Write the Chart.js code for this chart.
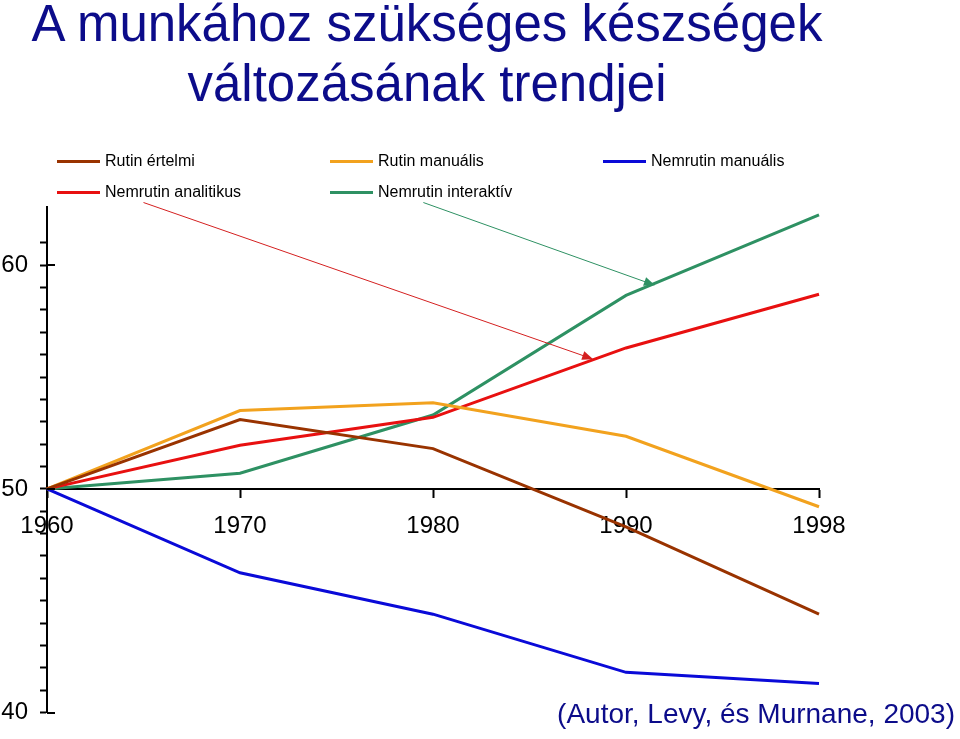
<!DOCTYPE html>
<html>
<head>
<meta charset="utf-8">
<script src="https://cdn.jsdelivr.net/npm/chart.js@4/dist/chart.umd.min.js"></script>
<style>
  html, body { margin: 0; padding: 0; background: #fff; }
  body { width: 960px; height: 739px; position: relative; overflow: hidden; font-family: 'Liberation Sans', Arial, sans-serif; }
  #c { position: absolute; left: 0; top: 0; }
  #title { position: absolute; left: 0; top: -6px; width: 854px; text-align: center; font-size: 51px; line-height: 60px; color: #0c0c8a; }
  #legend { position: absolute; left: 57px; top: 151px; display: grid; grid-template-columns: 273px 273px 273px; grid-auto-rows: 31px; }
  .item { display: flex; align-items: center; height: 20px; font-size: 16px; color: #000; white-space: nowrap; }
  .swatch { width: 43px; height: 3px; margin-right: 5px; }
  #cite { position: absolute; right: 5px; top: 698px; font-size: 28px; line-height: 32px; color: #0c0c8a; white-space: nowrap; }
</style>
</head>
<body>
<canvas id="c" width="960" height="739"></canvas>
<div id="title">A munkához szükséges készségek<br>változásának trendjei</div>
<div id="legend"></div>
<div id="cite">(Autor, Levy, és Murnane, 2003)</div>
<script>
// ---- data ----
const years = ['1960', '1970', '1980', '1990', '1998'];
const seriesNames = ['Rutin értelmi', 'Rutin manuális', 'Nemrutin manuális', 'Nemrutin analitikus', 'Nemrutin interaktív'];
const rutinErtelmi = [50, 53.1, 51.8, 48.3, 44.4];
const rutinManualis = [50, 53.5, 53.85, 52.35, 49.2];
const nemrutinManualis = [50, 46.25, 44.4, 41.8, 41.3];
const nemrutinAnalitikus = [50, 51.95, 53.2, 56.3, 58.7];
const nemrutinInteraktiv = [50, 50.7, 53.3, 58.65, 62.25];
const yMajorLabels = [40, 50, 60];
// annotation arrows (start -> end, in category index / value units)
const arrowFrom = [[0.50, 62.8], [1.95, 62.8]];
const arrowTo = [[2.83, 55.8], [3.15, 59.1]];
const seriesColors = ['#993300', '#f2a21e', '#0a0ad8', '#e81010', '#2e9163'];
const arrowColors = ['#d42020', '#2e9163'];

const seriesData = [rutinErtelmi, rutinManualis, nemrutinManualis, nemrutinAnalitikus, nemrutinInteraktiv];

// legend (HTML)
const legend = document.getElementById('legend');
seriesNames.forEach((n, i) => {
  const d = document.createElement('div');
  d.className = 'item';
  const s = document.createElement('span');
  s.className = 'swatch';
  s.style.background = seriesColors[i];
  d.appendChild(s);
  d.appendChild(document.createTextNode(n));
  legend.appendChild(d);
});

const FONT = "'Liberation Sans', Arial, sans-serif";

const extras = {
  id: 'extras',
  afterDatasetsDraw(chart) {
    const ctx = chart.ctx;
    const xs = chart.scales.x, ys = chart.scales.y;
    ctx.save();
    // arrows
    arrowFrom.forEach((f, i) => {
      const t = arrowTo[i];
      const x1 = xs.getPixelForValue(f[0]), y1 = ys.getPixelForValue(f[1]);
      const x2 = xs.getPixelForValue(t[0]), y2 = ys.getPixelForValue(t[1]);
      const ang = Math.atan2(y2 - y1, x2 - x1);
      const L = 11, W = 4.5;
      ctx.strokeStyle = arrowColors[i];
      ctx.fillStyle = arrowColors[i];
      ctx.lineWidth = 1;
      ctx.beginPath();
      ctx.moveTo(x1, y1);
      ctx.lineTo(x2 - Math.cos(ang) * L * 0.8, y2 - Math.sin(ang) * L * 0.8);
      ctx.stroke();
      ctx.beginPath();
      ctx.moveTo(x2, y2);
      ctx.lineTo(x2 - Math.cos(ang) * L - Math.sin(ang) * W, y2 - Math.sin(ang) * L + Math.cos(ang) * W);
      ctx.lineTo(x2 - Math.cos(ang) * L + Math.sin(ang) * W, y2 - Math.sin(ang) * L - Math.cos(ang) * W);
      ctx.closePath();
      ctx.fill();
    });
    // major ticks cross the y axis
    const x0 = chart.chartArea.left;
    ctx.strokeStyle = '#000';
    ctx.lineWidth = 2;
    yMajorLabels.forEach(v => {
      const y = Math.round(ys.getPixelForValue(v));
      ctx.beginPath();
      ctx.moveTo(x0, y);
      ctx.lineTo(x0 + 8, y);
      ctx.stroke();
    });
    ctx.restore();
  }
};

new Chart(document.getElementById('c'), {
  type: 'line',
  data: {
    labels: years,
    datasets: seriesNames.map((n, i) => ({
      label: n,
      data: seriesData[i],
      borderColor: seriesColors[i],
      backgroundColor: seriesColors[i],
      borderWidth: 3,
      pointRadius: 0,
      tension: 0,
      fill: false
    }))
  },
  options: {
    responsive: false,
    animation: false,
    events: [],
    layout: { padding: { left: 0, top: 207, right: 141, bottom: 26 } },
    plugins: { legend: { display: false }, tooltip: { enabled: false }, title: { display: false } },
    scales: {
      x: {
        type: 'category',
        position: { y: 50 },
        offset: false,
        grid: { drawOnChartArea: false, drawTicks: true, tickLength: 8, tickWidth: 2, tickColor: '#000', offset: false },
        border: { display: true, color: '#000', width: 2 },
        ticks: { color: '#000', font: { family: FONT, size: 24 }, padding: 15, maxRotation: 0, autoSkip: false }
      },
      y: {
        position: 'left',
        min: 40,
        max: 62.6,
        afterFit(scale) { scale.width = 47; },
        afterBuildTicks(scale) { scale.ticks = scale.ticks.filter(t => Number.isInteger(t.value)); },
        grid: { drawOnChartArea: false, drawTicks: true, tickLength: 7, tickWidth: 2, tickColor: '#000' },
        border: { display: true, color: '#000', width: 2 },
        ticks: {
          stepSize: 1,
          maxTicksLimit: 100,
          autoSkip: false,
          color: '#000',
          padding: 12,
          font: { family: FONT, size: 24 },
          callback: (v) => yMajorLabels.includes(v) ? String(v) : ''
        }
      }
    }
  },
  plugins: [extras]
});
</script>
</body>
</html>
